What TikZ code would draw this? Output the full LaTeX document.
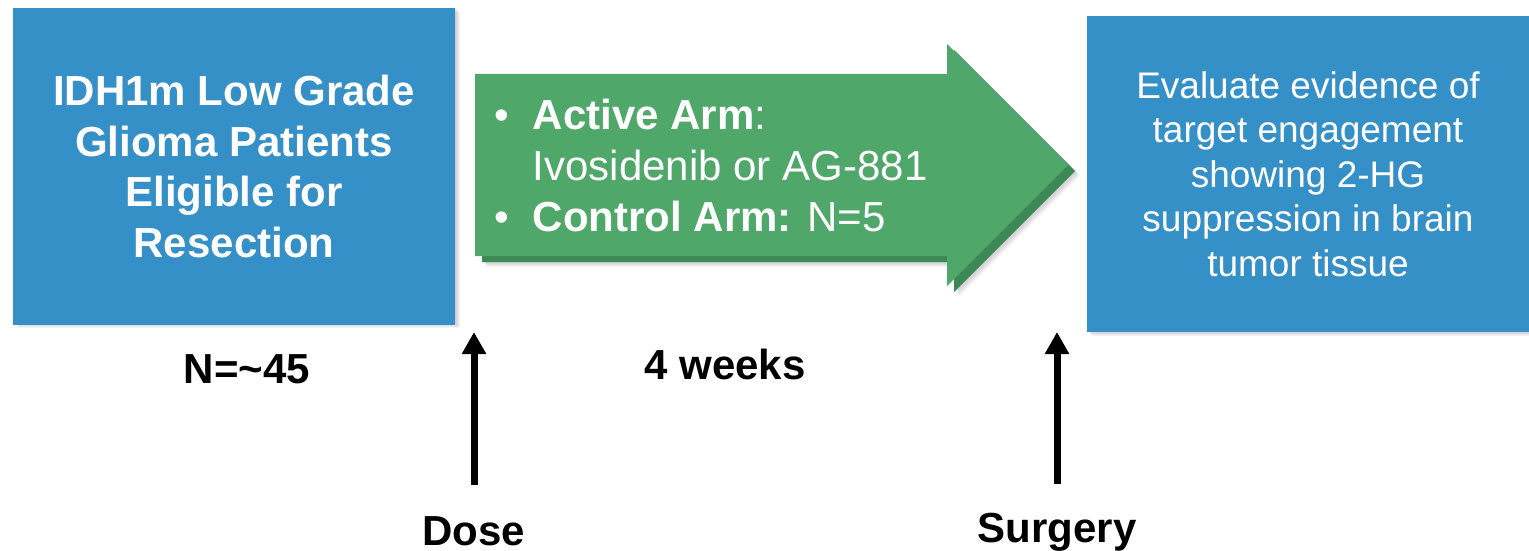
\documentclass[tikz,border=0pt]{standalone}
\usepackage{fontspec}
\setmainfont{Liberation Sans}
\usetikzlibrary{arrows.meta,positioning}
\definecolor{boxblue}{RGB}{52,144,198}
\definecolor{armgreen}{RGB}{80,167,106}
\definecolor{armshade}{RGB}{60,137,86}

\begin{document}
\begin{tikzpicture}[x={(1pt,0)},y={(0,-1pt)},
  bluebox/.style={fill=boxblue,text=white,align=center,inner sep=0pt,minimum width=442pt,minimum height=316pt},
  bigbold/.style={font=\fontsize{42}{50.5}\selectfont\bfseries},
  plaintext/.style={font=\fontsize{37}{44.5}\selectfont},
  timetext/.style={bigbold,anchor=base,inner sep=0pt},
  timearrow/.style={line width=7pt,-{Triangle[length=22pt,width=23pt]}}]
\useasboundingbox (0,0) rectangle (1529,551);
% soft shadows
\foreach \k in {1,...,5} {
  \fill[black,opacity=0.045] (13+\k,7+\k) rectangle (455+\k,323+\k);
  \fill[black,opacity=0.045] (1087+\k,15+\k) rectangle (1529+\k,331+\k);
  \fill[black,opacity=0.04,shift={(7+\k,6+\k)}] (475,74) -- (947,74) -- (947,44) -- (1068,165) -- (947,286) -- (947,256) -- (475,256) -- cycle;
}
% treatment arrow
\fill[armshade,shift={(7,6)}] (475,74) -- (947,74) -- (947,44) -- (1068,165) -- (947,286) -- (947,256) -- (475,256) -- cycle;
\fill[armgreen] (475,74) -- (947,74) -- (947,44) -- (1068,165) -- (947,286) -- (947,256) -- (475,256) -- cycle;
\node[anchor=base west,inner sep=0pt,text=white,font=\fontsize{42}{51}\selectfont] (arms) at (494,129)
  {\begin{tabular}[t]{@{}l@{\hspace{24pt}}l@{}}
   \textbullet & \textbf{Active Arm}:\\
               & Ivosidenib or AG-881\\
   \textbullet & \textbf{Control Arm:} N=5
   \end{tabular}};
% boxes
\node[bluebox,bigbold] (patients) at (234,166.5) {IDH1m Low Grade\\Glioma Patients\\Eligible for\\Resection};
\node[bluebox,plaintext] (evaluate) at (1308,174) {Evaluate evidence of\\target engagement\\showing 2-HG\\suppression in brain\\tumor tissue};
% timeline
\node[timetext] (count) at (247,383) {N=\textasciitilde45};
\node[timetext] (weeks) at (725,379) {4 weeks};
\node[timetext] (dose) at (474,545) {Dose};
\node[timetext] (surgery) at (1057,542) {Surgery};
\coordinate (dosetip) at (474,332);
\coordinate (surgerytip) at (1057,332);
\draw[timearrow,shorten <=31pt] (dose.north) -- (dosetip);
\draw[timearrow,shorten <=28pt] (surgery.north) -- (surgerytip);
\end{tikzpicture}
\end{document}
